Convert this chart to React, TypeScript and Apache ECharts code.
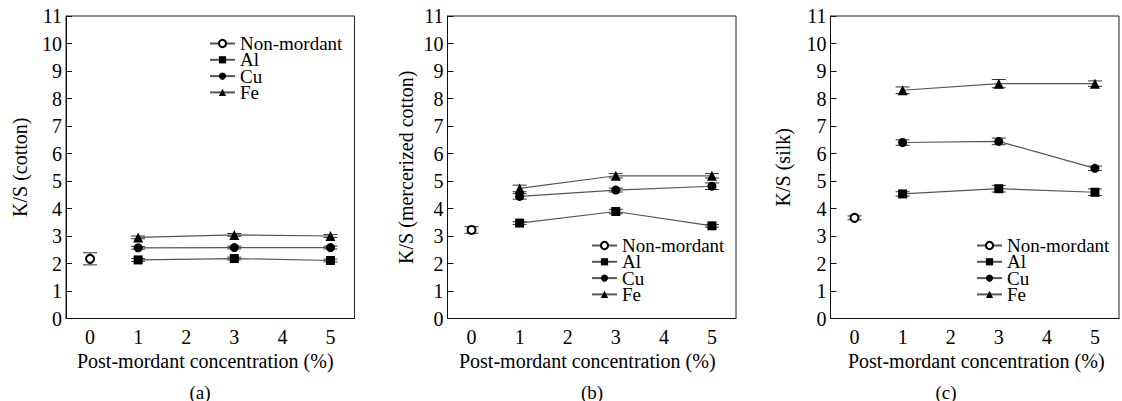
import React, { useEffect, useRef } from "react";
import * as echarts from "echarts";

// ---- data ----
const xCategories = ["0", "1", "2", "3", "4", "5"];
const mordantX = [1, 3, 5];
const seriesNames = ["Non-mordant", "Al", "Cu", "Fe"];
const yNames = ["K/S (cotton)", "K/S (mercerized cotton)", "K/S (silk)"];
const captions = ["(a)", "(b)", "(c)"];

const nonMordant = [2.17, 3.22, 3.66];
const nonMordantErr = [0.22, 0.12, 0.07];

const cottonAl = [2.13, 2.18, 2.11];
const cottonCu = [2.57, 2.58, 2.58];
const cottonFe = [2.95, 3.04, 3.0];
const cottonAlErr = [0.05, 0.05, 0.05];
const cottonCuErr = [0.05, 0.05, 0.05];
const cottonFeErr = [0.05, 0.05, 0.05];

const mercAl = [3.47, 3.89, 3.37];
const mercCu = [4.44, 4.67, 4.81];
const mercFe = [4.73, 5.19, 5.19];
const mercAlErr = [0.05, 0.08, 0.05];
const mercCuErr = [0.1, 0.07, 0.12];
const mercFeErr = [0.12, 0.08, 0.08];

const silkAl = [4.53, 4.72, 4.59];
const silkCu = [6.4, 6.44, 5.46];
const silkFe = [8.3, 8.54, 8.54];
const silkAlErr = [0.08, 0.12, 0.12];
const silkCuErr = [0.1, 0.12, 0.08];
const silkFeErr = [0.12, 0.15, 0.1];

const panelAl = [cottonAl, mercAl, silkAl];
const panelCu = [cottonCu, mercCu, silkCu];
const panelFe = [cottonFe, mercFe, silkFe];
const panelAlErr = [cottonAlErr, mercAlErr, silkAlErr];
const panelCuErr = [cottonCuErr, mercCuErr, silkCuErr];
const panelFeErr = [cottonFeErr, mercFeErr, silkFeErr];

// ---- layout ----
const FONT = "Liberation Serif";
const gridLefts = [66, 447.5, 830.5];
const gridWidth = 288.5;
const gridTop = 16;
const gridHeight = 302.5;
const yNameGaps = [36, 32, 38];
const xNamePads = [[0, 10, 0, 0], [0, 9, 0, 0], [0, 0, 0, 3]];
const legendPos = [
  { left: 209, top: 34 },
  { left: 591, top: 236 },
  { left: 976, top: 236 },
];
const captionX = [200, 592, 946];

function buildOption() {
  const grid: any[] = [];
  const xAxis: any[] = [];
  const yAxis: any[] = [];
  const series: any[] = [];
  const legend: any[] = [];
  const graphic: any[] = [];

  for (let p = 0; p < 3; p++) {
    grid.push({
      left: gridLefts[p],
      top: gridTop,
      width: gridWidth,
      height: gridHeight,
      show: true,
      borderColor: "#222",
      borderWidth: 1,
      containLabel: false,
    });
    xAxis.push({
      type: "category",
      gridIndex: p,
      data: xCategories,
      boundaryGap: true,
      name: "Post-mordant concentration (%)",
      nameLocation: "middle",
      nameGap: 29,
      nameTextStyle: { fontFamily: FONT, fontSize: 20, color: "#000", padding: xNamePads[p] },
      axisLine: { lineStyle: { color: "#111", width: 1 } },
      axisTick: { inside: true, alignWithLabel: true, length: 6, lineStyle: { color: "#111" } },
      axisLabel: { fontFamily: FONT, fontSize: 20, color: "#000", margin: 8 },
      splitLine: { show: false },
    });
    yAxis.push({
      type: "value",
      gridIndex: p,
      min: 0,
      max: 11,
      interval: 1,
      name: yNames[p],
      nameLocation: "middle",
      nameGap: yNameGaps[p],
      nameTextStyle: { fontFamily: FONT, fontSize: 20, color: "#000" },
      axisLine: { show: true, lineStyle: { color: "#111", width: 1 } },
      axisTick: { show: true, inside: true, length: 6, lineStyle: { color: "#111" } },
      axisLabel: { fontFamily: FONT, fontSize: 20, color: "#000", margin: 4 },
      splitLine: { show: false },
    });

    // error bars
    const errData: number[][] = [[0, nonMordant[p], nonMordantErr[p]]];
    mordantX.forEach((x, i) => {
      errData.push([x, panelAl[p][i], panelAlErr[p][i]]);
      errData.push([x, panelCu[p][i], panelCuErr[p][i]]);
      errData.push([x, panelFe[p][i], panelFeErr[p][i]]);
    });
    series.push({
      type: "custom",
      name: "err" + p,
      xAxisIndex: p,
      yAxisIndex: p,
      z: 1,
      encode: { x: 0, y: 1 },
      data: errData,
      renderItem: (params: any, api: any) => {
        const x = api.value(0);
        const y = api.value(1);
        const e = api.value(2);
        const hi = api.coord([x, y + e]);
        const lo = api.coord([x, y - e]);
        const hw = 7;
        const st = { stroke: "#333", lineWidth: 1 };
        return {
          type: "group",
          children: [
            { type: "line", shape: { x1: hi[0], y1: hi[1], x2: lo[0], y2: lo[1] }, style: st },
            { type: "line", shape: { x1: hi[0] - hw, y1: hi[1], x2: hi[0] + hw, y2: hi[1] }, style: st },
            { type: "line", shape: { x1: lo[0] - hw, y1: lo[1], x2: lo[0] + hw, y2: lo[1] }, style: st },
          ],
        };
      },
    });

    const lineCommon = {
      type: "line",
      xAxisIndex: p,
      yAxisIndex: p,
      z: 3,
      lineStyle: { color: "#555", width: 1.2 },
      itemStyle: { color: "#000" },
    };
    series.push({
      ...lineCommon,
      name: seriesNames[0],
      data: [[0, nonMordant[p]]],
      symbol: "emptyCircle",
      symbolSize: 8,
      itemStyle: { color: "#000", borderColor: "#000", borderWidth: 1 },
    });
    series.push({
      ...lineCommon,
      name: seriesNames[1],
      data: mordantX.map((x, i) => [x, panelAl[p][i]]),
      symbol: "rect",
      symbolSize: 9,
    });
    series.push({
      ...lineCommon,
      name: seriesNames[2],
      data: mordantX.map((x, i) => [x, panelCu[p][i]]),
      symbol: "circle",
      symbolSize: 9,
    });
    series.push({
      ...lineCommon,
      name: seriesNames[3],
      data: mordantX.map((x, i) => [x, panelFe[p][i]]),
      symbol: "triangle",
      symbolSize: 10,
    });

    legend.push({
      orient: "vertical",
      left: legendPos[p].left,
      top: legendPos[p].top,
      padding: 0,
      itemGap: -2.7,
      itemWidth: 25,
      itemHeight: 9,
      data: seriesNames,
      textStyle: { fontFamily: FONT, fontSize: 19, color: "#000", padding: 0 },
      selectedMode: false,
    });

    graphic.push({
      type: "text",
      x: captionX[p],
      y: 392,
      style: {
        text: captions[p],
        fontFamily: FONT,
        fontSize: 19,
        fill: "#000",
        align: "center",
        verticalAlign: "middle",
      },
    });
  }

  return {
    animation: false,
    backgroundColor: "#fff",
    grid,
    xAxis,
    yAxis,
    series,
    legend,
    graphic,
  };
}

export default function App() {
  const ref = useRef<HTMLDivElement>(null);
  useEffect(() => {
    if (!ref.current) return;
    const chart = echarts.init(ref.current, undefined, { renderer: "svg" });
    chart.setOption(buildOption() as any);
    return () => chart.dispose();
  }, []);
  return (
    <div
      ref={ref}
      style={{ position: "absolute", left: 0, top: 0, width: 1122, height: 401, background: "#fff" }}
    />
  );
}
